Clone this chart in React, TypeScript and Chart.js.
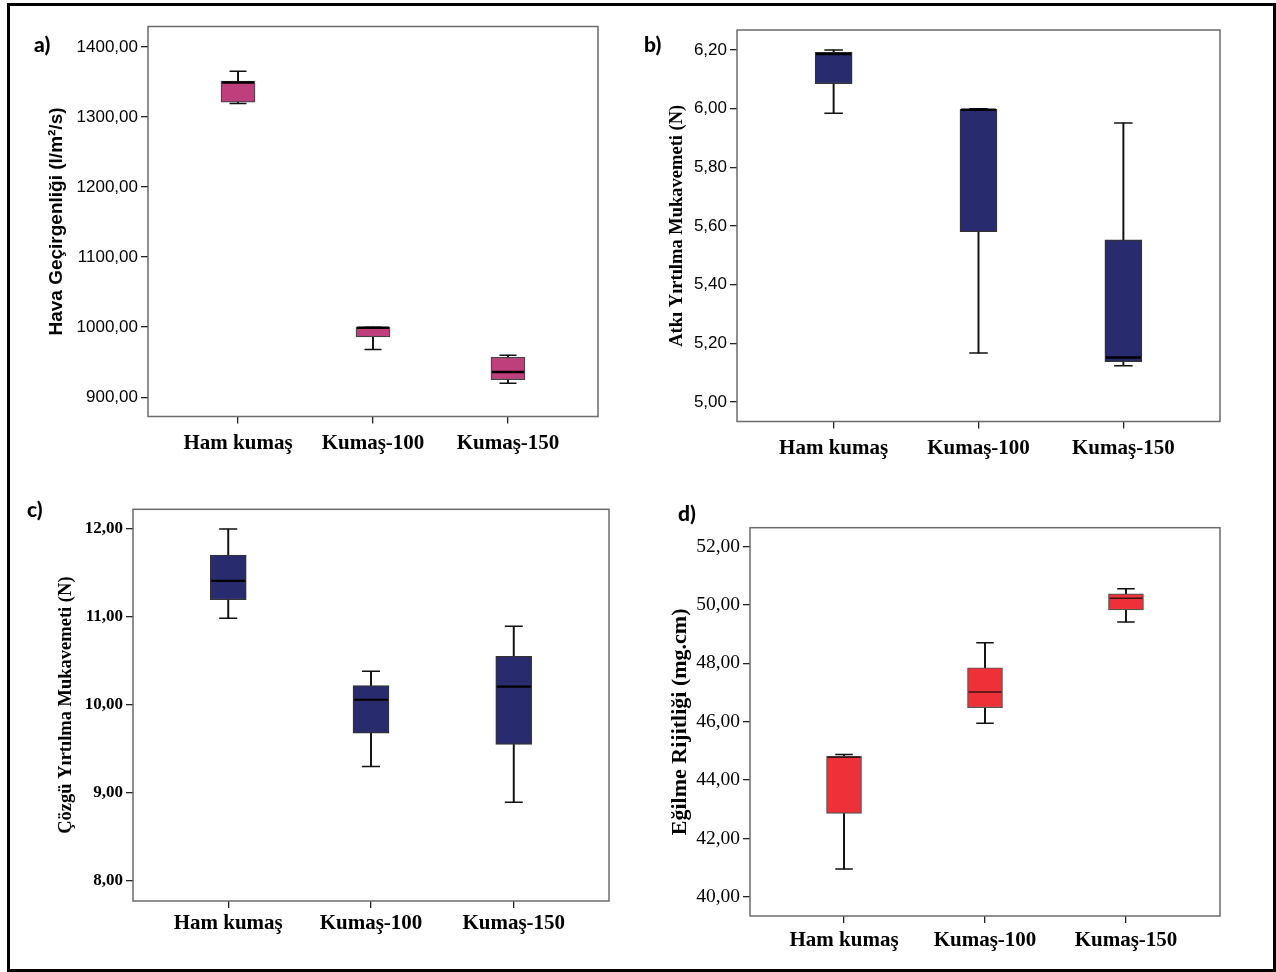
import React, { useEffect, useRef } from 'react';
import { Chart, registerables } from 'chart.js';

Chart.register(...registerables);

// ---------- data ----------
const categories = ['Ham kumaş', 'Kumaş-100', 'Kumaş-150'];

// a) Hava Geçirgenliği (l/m²/s)
const airMin = [1319, 968, 920];
const airQ1 = [1321, 986, 925];
const airMed = [1349, 999, 936];
const airQ3 = [1351, 1000, 957];
const airMax = [1365, 1000, 960];
const airTicks = [900, 1000, 1100, 1200, 1300, 1400];

// b) Atkı Yırtılma Mukavemeti (N)
const weftMin = [5.984, 5.167, 5.124];
const weftQ1 = [6.085, 5.581, 5.138];
const weftMed = [6.186, 5.996, 5.152];
const weftQ3 = [6.192, 5.998, 5.553];
const weftMax = [6.2, 6.0, 5.951];
const weftTicks = [5.0, 5.2, 5.4, 5.6, 5.8, 6.0, 6.2];

// c) Çözgü Yırtılma Mukavemeti (N)
const warpMin = [10.985, 9.3, 8.894];
const warpQ1 = [11.197, 9.68, 9.553];
const warpMed = [11.41, 10.06, 10.21];
const warpQ3 = [11.705, 10.22, 10.553];
const warpMax = [12.0, 10.383, 10.894];
const warpTicks = [8, 9, 10, 11, 12];

// d) Eğilme Rijitliği (mg.cm)
const bendMin = [40.95, 45.95, 49.42];
const bendQ1 = [42.86, 46.48, 49.83];
const bendMed = [44.78, 47.02, 50.23];
const bendQ3 = [44.82, 47.85, 50.38];
const bendMax = [44.88, 48.71, 50.56];
const bendTicks = [40, 42, 44, 46, 48, 50, 52];

// ---------- layout / style ----------
type Spec = {
  label: string;
  labelX: number;
  labelY: number;
  title: string;
  titleFont: { family: string; size: number; weight: any };
  titleCx: number;
  tickFont: { family: string; size: number; weight: any };
  min: number[]; q1: number[]; med: number[]; q3: number[]; max: number[];
  ticks: number[];
  yMin: number; yMax: number;
  fill: string; boxBorder: string; medColor: string; medWidth: number;
  boxW: number;
  x: number; y: number; w: number; h: number;
  boxL: number; boxR: number; boxT: number; boxB: number;
  xPad: number;
};

const SANS = '"Liberation Sans", Arial, sans-serif';
const SERIF = '"Liberation Serif", "Times New Roman", serif';

const panels: Spec[] = [
  {
    label: 'a)', labelX: 34, labelY: 33,
    title: 'Hava Geçirgenliği (l/m²/s)',
    titleFont: { family: SANS, size: 19, weight: 'bold' }, titleCx: 57,
    tickFont: { family: SANS, size: 17, weight: 'normal' },
    min: airMin, q1: airQ1, med: airMed, q3: airQ3, max: airMax, ticks: airTicks,
    yMin: 872.5, yMax: 1429,
    fill: '#BF3F7D', boxBorder: '#444', medColor: '#000', medWidth: 2.5, boxW: 34,
    x: 10, y: 8, w: 620, h: 465, boxL: 148, boxR: 598, boxT: 25.5, boxB: 416.5, xPad: 7,
  },
  {
    label: 'b)', labelX: 644, labelY: 33,
    title: 'Atkı Yırtılma Mukavemeti (N)',
    titleFont: { family: SERIF, size: 18.5, weight: 'bold' }, titleCx: 677,
    tickFont: { family: SANS, size: 17, weight: 'normal' },
    min: weftMin, q1: weftQ1, med: weftMed, q3: weftQ3, max: weftMax, ticks: weftTicks,
    yMin: 4.934, yMax: 6.268,
    fill: '#282B6E', boxBorder: '#333', medColor: '#000', medWidth: 2.5, boxW: 37,
    x: 640, y: 8, w: 625, h: 465, boxL: 737, boxR: 1220, boxT: 30, boxB: 421.5, xPad: 7,
  },
  {
    label: 'c)', labelX: 27, labelY: 498,
    title: 'Çözgü Yırtılma Mukavemeti (N)',
    titleFont: { family: SERIF, size: 18.5, weight: 'bold' }, titleCx: 66,
    tickFont: { family: SERIF, size: 17, weight: 'bold' },
    min: warpMin, q1: warpQ1, med: warpMed, q3: warpQ3, max: warpMax, ticks: warpTicks,
    yMin: 7.773, yMax: 12.224,
    fill: '#282B6E', boxBorder: '#333', medColor: '#000', medWidth: 2.2, boxW: 36,
    x: 10, y: 480, w: 620, h: 480, boxL: 133, boxR: 609, boxT: 509.3, boxB: 901, xPad: 3,
  },
  {
    label: 'd)', labelX: 678, labelY: 502,
    title: 'Eğilme Rijitliği (mg.cm)',
    titleFont: { family: SERIF, size: 22, weight: 'bold' }, titleCx: 680,
    tickFont: { family: SERIF, size: 19.5, weight: 'normal' },
    min: bendMin, q1: bendQ1, med: bendMed, q3: bendQ3, max: bendMax, ticks: bendTicks,
    yMin: 39.34, yMax: 52.65,
    fill: '#EE3139', boxBorder: '#555', medColor: '#3a1414', medWidth: 1.6, boxW: 35,
    x: 640, y: 480, w: 625, h: 480, boxL: 750, boxR: 1220, boxT: 527.7, boxB: 916, xPad: 4.5,
  },
];

function makeConfig(s: Spec): any {
  const idx = categories.map((_, i) => i);
  const capW = s.boxW / 2;
  const framePlugin = {
    id: 'frame',
    afterDraw(chart: any) {
      const { ctx, chartArea: a } = chart;
      ctx.save();
      ctx.strokeStyle = '#6b6b6b';
      ctx.lineWidth = 1.5;
      ctx.strokeRect(a.left, a.top, a.right - a.left, a.bottom - a.top);
      ctx.restore();
    },
  };
  return {
    type: 'bar',
    data: {
      datasets: [
        {
          type: 'scatter',
          data: idx.map((i) => ({ x: i, y: s.med[i] })),
          pointStyle: 'line',
          pointRadius: s.boxW / 2 - 1,
          pointHoverRadius: s.boxW / 2 - 1,
          pointBorderWidth: s.medWidth,
          pointBorderColor: s.medColor,
          pointBackgroundColor: s.medColor,
        },
        {
          type: 'bar',
          data: idx.map((i) => ({ x: i, y: [s.q1[i], s.q3[i]] })),
          backgroundColor: s.fill,
          borderColor: s.boxBorder,
          borderWidth: 1.2,
          borderSkipped: false,
          barThickness: s.boxW,
          grouped: false,
        },
        {
          type: 'scatter',
          data: [
            ...idx.map((i) => ({ x: i, y: s.min[i] })),
            ...idx.map((i) => ({ x: i, y: s.max[i] })),
          ],
          pointStyle: 'line',
          pointRadius: capW / 2,
          pointHoverRadius: capW / 2,
          pointBorderWidth: 1.5,
          pointBorderColor: '#111',
          pointBackgroundColor: '#111',
        },
        {
          type: 'bar',
          data: idx.map((i) => ({ x: i, y: [s.min[i], s.max[i]] })),
          backgroundColor: '#111',
          borderWidth: 0,
          barThickness: 1.3,
          grouped: false,
        },
      ],
    },
    options: {
      animation: false,
      responsive: false,
      devicePixelRatio: 1,
      events: [],
      layout: {
        padding: { left: 0, bottom: 0, top: s.boxT - s.y, right: s.x + s.w - s.boxR },
      },
      plugins: {
        legend: { display: false },
        tooltip: { enabled: false },
      },
      scales: {
        x: {
          type: 'linear',
          min: -0.667,
          max: 2.667,
          offset: false,
          border: { display: false },
          grid: { offset: false, drawOnChartArea: false, drawTicks: true, tickLength: 7, color: '#222', lineWidth: 1.3 },
          ticks: {
            autoSkip: false,
            maxRotation: 0,
            minRotation: 0,
            padding: s.xPad,
            color: '#000',
            font: { family: SERIF, size: 21, weight: 'bold' },
            callback: (v: number) => categories[Math.round(v)] ?? '',
          },
          afterBuildTicks: (sc: any) => {
            sc.ticks = idx.map((i) => ({ value: i }));
          },
          afterFit: (sc: any) => {
            sc.height = s.y + s.h - s.boxB;
          },
        },
        y: {
          type: 'linear',
          min: s.yMin,
          max: s.yMax,
          border: { display: false },
          grid: { drawOnChartArea: false, drawTicks: true, tickLength: 7, color: '#222', lineWidth: 1.3 },
          ticks: {
            padding: 3,
            color: '#000',
            font: s.tickFont,
            callback: (v: number) => v.toFixed(2).replace('.', ','),
          },
          afterBuildTicks: (sc: any) => {
            sc.ticks = s.ticks.map((v) => ({ value: v }));
          },
          afterFit: (sc: any) => {
            sc.width = s.boxL - s.x;
          },
          title: {
            display: true,
            text: s.title,
            color: '#000',
            font: s.titleFont,
            padding: { top: s.titleCx - s.x - (s.titleFont.size * 1.2) / 2, bottom: 0 },
          },
        },
      },
    },
    plugins: [framePlugin],
  };
}

function BoxPanel({ spec }: { spec: Spec }) {
  const ref = useRef<HTMLCanvasElement | null>(null);
  useEffect(() => {
    if (!ref.current) return;
    const chart = new Chart(ref.current, makeConfig(spec));
    return () => chart.destroy();
  }, [spec]);
  return (
    <>
      <canvas
        ref={ref}
        width={spec.w}
        height={spec.h}
        style={{ position: 'absolute', left: spec.x, top: spec.y, width: spec.w, height: spec.h }}
      />
      <div
        style={{
          position: 'absolute',
          left: spec.labelX,
          top: spec.labelY,
          fontFamily: 'Lato, "Open Sans", sans-serif',
          fontWeight: 900,
          fontSize: 21,
          lineHeight: '22px',
          color: '#000',
        }}
      >
        {spec.label}
      </div>
    </>
  );
}

export default function App() {
  return (
    <div
      style={{
        position: 'fixed',
        left: 0,
        top: 0,
        width: 1276,
        height: 972,
        background: '#fff',
        overflow: 'hidden',
      }}
    >
      <div
        style={{
          position: 'absolute',
          left: 7,
          top: 3,
          width: 1269,
          height: 969,
          boxSizing: 'border-box',
          border: '3px solid #000',
        }}
      />
      {panels.map((p) => (
        <BoxPanel key={p.label} spec={p} />
      ))}
    </div>
  );
}
